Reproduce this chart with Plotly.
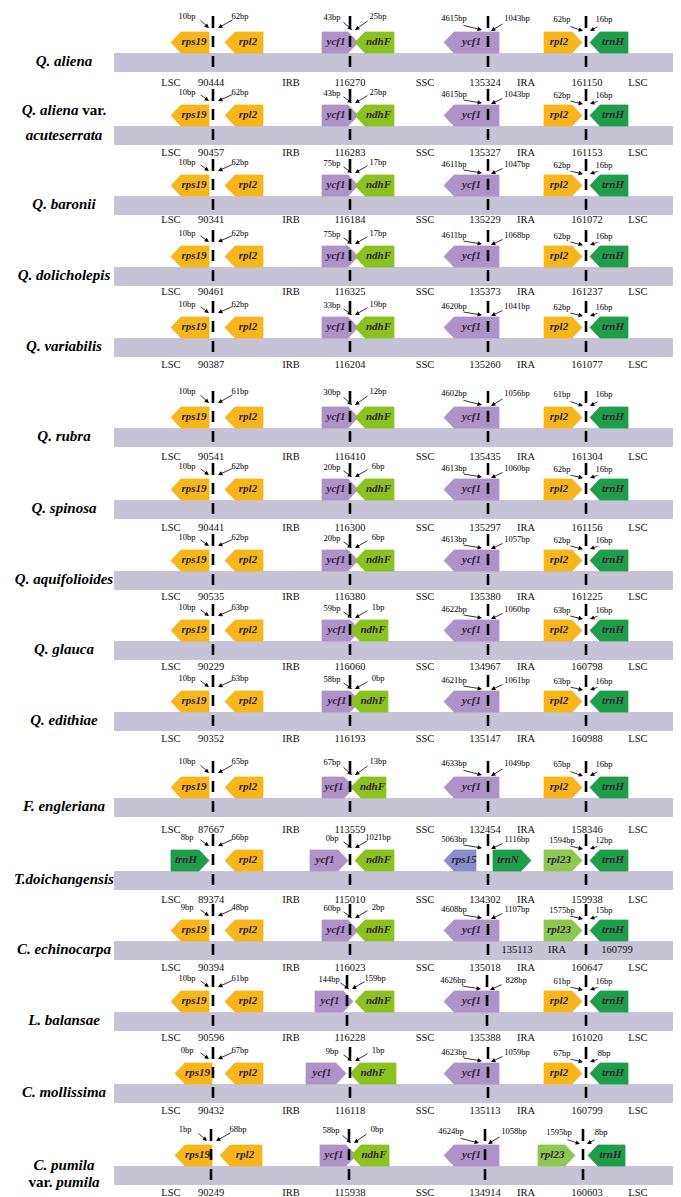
import plotly.graph_objects as go

# species (top to bottom)
species = ["Q. aliena", "Q. aliena var. acuteserrata", "Q. baronii", "Q. dolicholepis",
           "Q. variabilis", "Q. rubra", "Q. spinosa", "Q. aquifolioides", "Q. glauca",
           "Q. edithiae", "F. engleriana", "T.doichangensis", "C. echinocarpa",
           "L. balansae", "C. mollissima", "C. pumila var. pumila"]

# genes flanking the junctions, per species
std_genes = ["rps19", "rpl2", "ycf1", "ndhF", "ycf1", "rpl2", "trnH"]
genes = [std_genes] * 11 + [
    ["trnH", "rpl2", "ycf1", "ndhF", "rps15", "trnN", "rpl23", "trnH"],
    ["rps19", "rpl2", "ycf1", "ndhF", "ycf1", "rpl23", "trnH"],
    std_genes,
    std_genes,
    ["rps19", "rpl2", "ycf1", "ndhF", "ycf1", "rpl23", "trnH"],
]

# distances (bp) from the junctions, left / right of each junction
jlb_left = [10, 10, 10, 10, 10, 10, 10, 10, 10, 10, 10, 8, 9, 10, 0, 1]
jlb_right = [62, 62, 62, 62, 62, 61, 62, 62, 63, 63, 65, 66, 48, 61, 67, 68]
jsb_left = [43, 43, 75, 75, 33, 30, 20, 20, 59, 58, 67, 0, 60, 144, 9, 58]
jsb_right = [25, 25, 17, 17, 19, 12, 6, 6, 1, 0, 13, 1021, 2, 159, 1, 0]
jsa_left = [4615, 4615, 4611, 4611, 4620, 4602, 4613, 4613, 4622, 4621, 4633, 5063, 4608, 4626, 4623, 4624]
jsa_right = [1043, 1043, 1047, 1068, 1041, 1056, 1060, 1057, 1060, 1061, 1049, 1116, 1107, 828, 1059, 1058]
jla_left = [62, 62, 62, 62, 62, 61, 62, 62, 63, 63, 65, 1594, 1575, 61, 67, 1595]
jla_right = [16, 16, 16, 16, 16, 16, 16, 16, 16, 16, 16, 12, 15, 16, 8, 8]

# junction coordinates printed in the rows of text
jlb_pos = [90444, 90457, 90341, 90461, 90387, 90541, 90441, 90535, 90229, 90352, 87667, 89374, 90394, 90596, 90432, 90249]
jsb_pos = [116270, 116283, 116184, 116325, 116204, 116410, 116300, 116380, 116060, 116193, 113559, 115010, 116023, 116228, 116118, 115938]
jsa_pos = [135324, 135327, 135229, 135373, 135260, 135435, 135297, 135380, 134967, 135147, 132454, 134302, 135018, 135388, 135113, 134914]
jla_pos = [161150, 161153, 161072, 161237, 161077, 161304, 161156, 161225, 160798, 160988, 158346, 159938, 160647, 161020, 160799, 160603]
region_names = ["LSC", "IRB", "SSC", "IRA", "LSC"]
echino_extra = [135113, 160799]

# ---- layout (pixels) ----
W, H = 681, 1197
gene_top = [24, 97, 167, 238, 309, 399, 471, 542, 612, 683, 769, 842, 912, 983, 1055, 1137]
text_row_y = [75, 145, 212, 284, 357, 449, 520, 589, 659, 731, 822, 892, 960, 1030, 1103, 1185]
# rows whose bp labels sit just under a row of coordinates are pushed down a little
lab_shift = [0, 3, 3, 3, 3, 0, 3, 3, 3, 3, 0, 3, 3, 3, 3, 0]
GH = 21     # gene height
BH = 19     # bar height
HEAD = 10   # arrow head length
jx_default = [205, 342, 480, 578]
jx_override = {13: [205, 339, 479, 578], 15: [203, 341, 477, 575]}

slots_std = ["L1", "L2", "B1", "B2", "S1", "A1", "A2"]
slots_tdo = ["L1", "L2", "B1", "B2", "S1", "S2", "A1", "A2"]
slot_geo = {"L1": (163, 201, "L"), "L2": (217, 255, "L"), "B1": (314, 350, "R"),
            "B2": (347, 386, "L"), "S1": (436, 491, "L"), "S2": (485, 523, "R"),
            "A1": (536, 574, "R"), "A2": (582, 620, "L")}
geo_override = {
    (8, "B1"): (314, 352, "R"), (8, "B2"): (342, 380, "L"),
    (9, "B1"): (314, 352, "R"), (9, "B2"): (342, 380, "L"),
    (10, "B1"): (314, 346, "R"), (10, "B2"): (343, 378, "L"),
    (11, "L1"): (163, 201, "R"), (11, "B1"): (302, 340, "R"), (11, "S1"): (436, 468, "L"),
    (13, "B1"): (307, 345, "R"),
    (14, "L1"): (167, 204, "L"), (14, "B1"): (298, 338, "R"), (14, "B2"): (342, 388, "L"),
    (15, "L1"): (167, 204, "L"), (15, "L2"): (212, 254, "L"), (15, "B1"): (312, 348, "R"),
    (15, "B2"): (343, 381, "L"), (15, "A1"): (530, 567, "R"), (15, "A2"): (580, 617, "L"),
}
gene_color = {"rps19": "#F6B61C", "rpl2": "#F6B61C", "ycf1": "#AD93C8", "ndhF": "#8CC21F",
              "trnH": "#1F9E4A", "trnN": "#1F9E4A", "rpl23": "#8CC852", "rps15": "#8A8FCB"}
SERIF = "Liberation Serif"

fig = go.Figure()
annotations = []

# gene polygons, grouped by colour
poly = {}
gene_txt_x, gene_txt_y, gene_txt = [], [], []
for i, names in enumerate(genes):
    t = gene_top[i]
    b = t + GH
    m = (t + b) / 2
    slots = slots_tdo if len(names) == 8 else slots_std
    for name, slot in zip(names, slots):
        x0, x1, d = geo_override.get((i, slot), slot_geo[slot])
        if d == "L":
            xs = [x0, x0 + HEAD, x1, x1, x0 + HEAD, x0, None]
            ys = [m, t, t, b, b, m, None]
        else:
            xs = [x0, x1 - HEAD, x1, x1 - HEAD, x0, x0, None]
            ys = [t, t, m, b, b, t, None]
        c = gene_color[name]
        poly.setdefault(c, ([], []))
        poly[c][0].extend(xs)
        poly[c][1].extend(ys)
        cx = (x0 + x1) / 2
        if x1 - x0 < 45:
            cx += 4 if d == "L" else -4
        gene_txt_x.append(cx)
        gene_txt_y.append(m)
        gene_txt.append("<b><i>%s</i></b>" % name)

for c, (xs, ys) in poly.items():
    fig.add_trace(go.Scatter(x=xs, y=ys, mode="lines", fill="toself", fillcolor=c,
                             line=dict(color=c, width=0.8), hoverinfo="skip"))

# grey bars
for i in range(len(species)):
    bt = gene_top[i] + GH
    fig.add_shape(type="rect", x0=106, x1=674, y0=bt, y1=bt + BH,
                  fillcolor="#C5C3D5", line=dict(width=0), layer="below")

# junction dashes
lx, ly = [], []
for i in range(len(species)):
    t = gene_top[i]
    for jx in jx_override.get(i, jx_default):
        for y0, y1 in [(t - 16, t - 4), (t + 4, t + 15), (t + GH + 3, t + GH + 14)]:
            lx += [jx, jx, None]
            ly += [y0, y1, None]
fig.add_trace(go.Scatter(x=lx, y=ly, mode="lines", line=dict(color="black", width=2.6),
                         hoverinfo="skip"))

# gene names
fig.add_trace(go.Scatter(x=gene_txt_x, y=gene_txt_y, text=gene_txt, mode="text",
                         textfont=dict(family=SERIF, size=11, color="#33223A"),
                         hoverinfo="skip"))

# bp labels with arrows
# (text dx, text dy, tail dx, tail dy, head dx, head dy) relative to junction / gene top
lab_geo = [
    [(-26, -15, -14, -13, -4, -4), (27, -15, 21, -13, 5, -4)],
    [(-18, -14, -8, -11, 2, -2), (28, -15, 19, -12, 5, -2)],
    [(-34, -13, -26, -7, -6, -2), (29, -13, 16, -9, 3, -1)],
    [(-24, -12, -17, -6, -3, -1), (18, -12, 13, -6, 4, -1)],
]
bp_vals = [(jlb_left, jlb_right), (jsb_left, jsb_right), (jsa_left, jsa_right), (jla_left, jla_right)]
bx, by, bt_ = [], [], []
for i in range(len(species)):
    t = gene_top[i]
    s = lab_shift[i]
    jxs = jx_override.get(i, jx_default)
    for k in range(4):
        for side in range(2):
            tdx, tdy, adx, ady, hdx, hdy = lab_geo[k][side]
            v = bp_vals[k][side][i]
            bx.append(jxs[k] + tdx)
            by.append(t + tdy + s)
            bt_.append("%dbp" % v)
            annotations.append(dict(x=jxs[k] + hdx, y=t + hdy, ax=jxs[k] + adx, ay=t + ady + s * 0.6,
                                    xref="x", yref="y", axref="x", ayref="y", text="",
                                    showarrow=True, arrowhead=2, arrowsize=1.1, arrowwidth=0.8,
                                    arrowcolor="black", standoff=0))
fig.add_trace(go.Scatter(x=bx, y=by, text=bt_, mode="text",
                         textfont=dict(family=SERIF, size=8.5, color="black"), hoverinfo="skip"))

# rows of region names and junction coordinates
row_x = [163, 203, 283, 342, 417, 477, 518, 579, 630]
px_, py_, pt_ = [], [], []
for i in range(len(species)):
    vals = [region_names[0], jlb_pos[i], region_names[1], jsb_pos[i], region_names[2],
            jsa_pos[i], region_names[3], jla_pos[i], region_names[4]]
    for x, v in zip(row_x, vals):
        px_.append(x)
        py_.append(text_row_y[i])
        pt_.append(str(v))
# extra coordinates printed inside the C. echinocarpa bar
ey = gene_top[12] + GH + BH / 2
px_ += [509, 549, 609]
py_ += [ey, ey, ey]
pt_ += [str(echino_extra[0]), "IRA", str(echino_extra[1])]
fig.add_trace(go.Scatter(x=px_, y=py_, text=pt_, mode="text",
                         textfont=dict(family=SERIF, size=10.5, color="#111111"), hoverinfo="skip"))

# species names
sx, sy, st = [], [], []
for i, name in enumerate(species):
    yc = gene_top[i] + GH + BH / 2
    if " var. " in name:
        a, b = name.split(" var. ")
        if i == 1:
            lines = [("<b><i>%s</i> var.</b>" % a, gene_top[i] + 6),
                     ("<b><i>%s</i></b>" % b, gene_top[i] + 31)]
        else:
            lines = [("<b><i>%s</i></b>" % a, yc - 9), ("<b>var. <i>%s</i></b>" % b, yc + 8)]
        for txt, y in lines:
            sx.append(56)
            sy.append(y)
            st.append(txt)
    else:
        sx.append(56)
        sy.append(yc)
        st.append("<b><i>%s</i></b>" % name)
fig.add_trace(go.Scatter(x=sx, y=sy, text=st, mode="text",
                         textfont=dict(family=SERIF, size=15, color="black"), hoverinfo="skip"))

fig.update_layout(
    width=W, height=H, margin=dict(l=0, r=0, t=0, b=0),
    paper_bgcolor="white", plot_bgcolor="white", showlegend=False,
    xaxis=dict(range=[0, W], visible=False, fixedrange=True),
    yaxis=dict(range=[H, 0], visible=False, fixedrange=True),
    annotations=annotations,
)
fig.write_html("out.html")
